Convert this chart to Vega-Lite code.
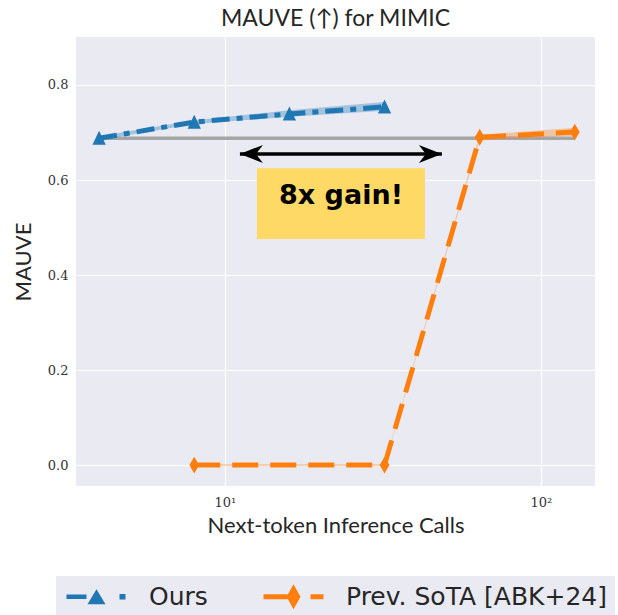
{
  "$schema": "https://vega.github.io/schema/vega-lite/v6.json",
  "width": 519,
  "height": 449,
  "autosize": {"type": "none"},
  "padding": {"left": 76, "top": 37, "right": 23, "bottom": 129},
  "background": "white",
  "title": {"text": "MAUVE (↑) for MIMIC", "font": "Lato", "fontSize": 23, "fontWeight": "normal", "color": "#262626", "offset": 6, "anchor": "middle"},
  "datasets": {
    "main": [
      {"series": "Ours", "x": 4, "y": 0.688, "lo": 0.684, "hi": 0.692},
      {"series": "Ours", "x": 8, "y": 0.722, "lo": 0.718, "hi": 0.726},
      {"series": "Ours", "x": 16, "y": 0.739, "lo": 0.733, "hi": 0.747},
      {"series": "Ours", "x": 32, "y": 0.754, "lo": 0.746, "hi": 0.764},
      {"series": "Prev. SoTA [ABK+24]", "x": 8, "y": 0.0, "lo": -0.002, "hi": 0.002},
      {"series": "Prev. SoTA [ABK+24]", "x": 32, "y": 0.0, "lo": -0.002, "hi": 0.002},
      {"series": "Prev. SoTA [ABK+24]", "x": 64, "y": 0.69, "lo": 0.685, "hi": 0.695},
      {"series": "Prev. SoTA [ABK+24]", "x": 128, "y": 0.701, "lo": 0.693, "hi": 0.71}
    ],
    "baseline": [{"x": 4, "y": 0.688}, {"x": 128, "y": 0.688}],
    "arrow": [{"x1": 11.16, "x2": 48.6, "y": 0.655}],
    "box": [{"x1": 12.63, "x2": 42.96, "y1": 0.476, "y2": 0.625, "xc": 23.3, "yc": 0.549, "label": "8x gain!"}]
  },
  "layer": [
    {
      "data": {"name": "baseline"},
      "mark": {"type": "line", "color": "#a6a6a6", "strokeWidth": 3.5},
      "encoding": {
        "x": {"field": "x", "type": "quantitative", "scale": {"type": "log", "domain": [3.38, 148.3], "nice": false}, "axis": {"values": [10, 100], "labelExpr": "datum.value == 10 ? '10¹' : '10²'", "title": "Next-token Inference Calls"}},
        "y": {"field": "y", "type": "quantitative", "scale": {"domain": [-0.044, 0.901], "nice": false, "zero": false}, "axis": {"values": [0, 0.2, 0.4, 0.6, 0.8], "format": ".1f", "title": "MAUVE"}}
      }
    },
    {
      "data": {"name": "main"},
      "mark": {"type": "area", "opacity": 0.35},
      "encoding": {
        "x": {"field": "x", "type": "quantitative"},
        "y": {"field": "lo", "type": "quantitative"},
        "y2": {"field": "hi"},
        "color": {"field": "series", "type": "nominal", "scale": {"domain": ["Ours", "Prev. SoTA [ABK+24]"], "range": ["#1f77b4", "#ff7f0e"]}, "legend": {"orient": "none", "legendX": -20, "legendY": 539}}
      }
    },
    {
      "data": {"name": "main"},
      "transform": [{"filter": "datum.series == 'Ours'"}],
      "mark": {"type": "line", "strokeWidth": 5, "color": "#1f77b4", "strokeDash": [18, 7, 6, 7]},
      "encoding": {
        "x": {"field": "x", "type": "quantitative"},
        "y": {"field": "y", "type": "quantitative"}
      }
    },
    {
      "data": {"name": "main"},
      "transform": [{"filter": "datum.series != 'Ours'"}],
      "mark": {"type": "line", "strokeWidth": 5, "color": "#ff7f0e", "strokeDash": [26, 12]},
      "encoding": {
        "x": {"field": "x", "type": "quantitative"},
        "y": {"field": "y", "type": "quantitative"}
      }
    },
    {
      "data": {"name": "main"},
      "transform": [{"filter": "datum.series == 'Ours'"}],
      "mark": {"type": "point", "filled": true, "opacity": 1, "color": "#1f77b4", "shape": "M0,-1.05 L0.95,0.95 L-0.95,0.95 Z", "size": 196, "strokeWidth": 0},
      "encoding": {
        "x": {"field": "x", "type": "quantitative"},
        "y": {"field": "y", "type": "quantitative"}
      }
    },
    {
      "data": {"name": "main"},
      "transform": [{"filter": "datum.series != 'Ours'"}],
      "mark": {"type": "point", "filled": true, "opacity": 1, "color": "#ff7f0e", "shape": "M0,-1.2 L0.7,0 L0,1.2 L-0.7,0 Z", "size": 196, "strokeWidth": 0},
      "encoding": {
        "x": {"field": "x", "type": "quantitative"},
        "y": {"field": "y", "type": "quantitative"}
      }
    },
    {
      "data": {"name": "main"},
      "mark": {"type": "point", "filled": true, "opacity": 0},
      "encoding": {
        "x": {"field": "x", "type": "quantitative"},
        "y": {"field": "y", "type": "quantitative"},
        "color": {"field": "series", "type": "nominal", "legend": {"orient": "none", "legendX": -20, "legendY": 539}},
        "shape": {"field": "series", "type": "nominal", "scale": {"domain": ["Ours", "Prev. SoTA [ABK+24]"], "range": ["M-3,-0.22 L-1,-0.22 L-1,0.22 L-3,0.22 Z M0,-0.75 L0.9,0.75 L-0.9,0.75 Z M2.3,-0.28 L2.9,-0.28 L2.9,0.28 L2.3,0.28 Z", "M-3,-0.26 L-0.6,-0.26 L-0.6,0.26 L-3,0.26 Z M0,-1.25 L0.7,0 L0,1.25 L-0.7,0 Z M1.7,-0.26 L3,-0.26 L3,0.26 L1.7,0.26 Z"]}, "legend": {"orient": "none", "legendX": -20, "legendY": 539}}
      }
    },
    {
      "data": {"name": "arrow"},
      "mark": {"type": "rule", "color": "black", "strokeWidth": 3.5},
      "encoding": {
        "x": {"field": "x1", "type": "quantitative"},
        "x2": {"field": "x2"},
        "y": {"field": "y", "type": "quantitative"}
      }
    },
    {
      "data": {"name": "arrow"},
      "mark": {"type": "point", "filled": true, "opacity": 1, "color": "black", "shape": "M0,0 L2.3,-0.9 L1.6,0 L2.3,0.9 Z", "size": 400, "strokeWidth": 0},
      "encoding": {
        "x": {"field": "x1", "type": "quantitative"},
        "y": {"field": "y", "type": "quantitative"}
      }
    },
    {
      "data": {"name": "arrow"},
      "mark": {"type": "point", "filled": true, "opacity": 1, "color": "black", "shape": "M0,0 L-2.3,-0.9 L-1.6,0 L-2.3,0.9 Z", "size": 400, "strokeWidth": 0},
      "encoding": {
        "x": {"field": "x2", "type": "quantitative"},
        "y": {"field": "y", "type": "quantitative"}
      }
    },
    {
      "data": {"name": "box"},
      "mark": {"type": "rect", "color": "#ffd966", "opacity": 1},
      "encoding": {
        "x": {"field": "x1", "type": "quantitative"},
        "x2": {"field": "x2"},
        "y": {"field": "y1", "type": "quantitative"},
        "y2": {"field": "y2"}
      }
    },
    {
      "data": {"name": "box"},
      "mark": {"type": "text", "font": "DejaVu Sans", "fontWeight": "bold", "fontSize": 27, "color": "black", "align": "center", "baseline": "alphabetic"},
      "encoding": {
        "x": {"field": "xc", "type": "quantitative"},
        "y": {"field": "yc", "type": "quantitative"},
        "text": {"field": "label"}
      }
    }
  ],
  "config": {
    "view": {"fill": "#eaeaf2", "stroke": null},
    "legend": {"title": null, "direction": "horizontal", "symbolSize": 400, "symbolOffset": 20, "labelOffset": 40, "symbolOpacity": 1, "symbolStrokeWidth": 0, "labelFont": "DejaVu Sans", "labelFontSize": 25, "labelColor": "#262626", "fillColor": "#eaeaf2", "padding": 8, "columnPadding": 53, "labelLimit": 400},
    "axis": {
      "domain": false,
      "ticks": false,
      "grid": true,
      "gridColor": "white",
      "gridWidth": 1.2,
      "labelFont": "DejaVu Serif",
      "labelFontSize": 13,
      "labelColor": "#333333",
      "titleFont": "Lato",
      "titleFontSize": 22,
      "titleFontWeight": "normal",
      "titleColor": "#262626"
    },
    "axisX": {"labelPadding": 10, "titlePadding": 6},
    "axisY": {"labelPadding": 8, "titlePadding": 12}
  }
}
